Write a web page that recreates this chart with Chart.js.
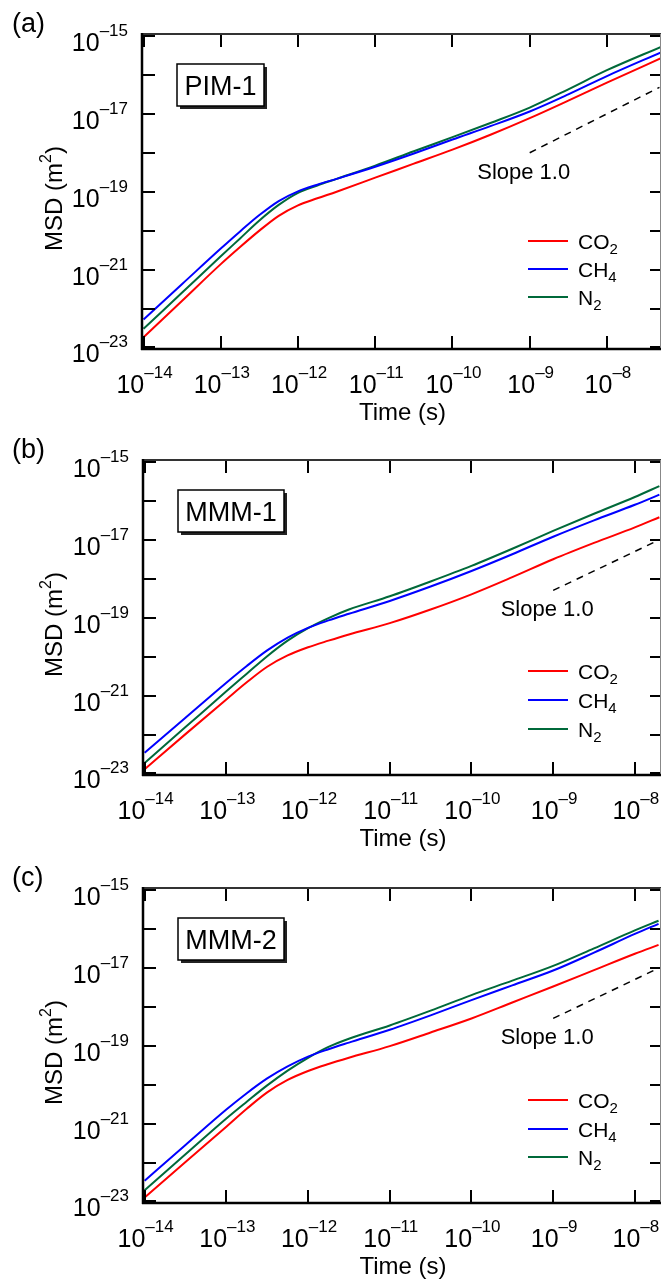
<!DOCTYPE html>
<html lang="en">
<head>
<meta charset="UTF-8">
<title>MSD vs time</title>
<script src="https://cdn.jsdelivr.net/npm/chart.js"></script>
<style>
  body { margin: 0; background: #fff; }
  #wrap { position: relative; width: 662px; height: 1286px; }
  canvas { position: absolute; left: 0; }
</style>
</head>
<body>
<div id="wrap">
  <canvas id="chartA" width="662" height="426" style="top:0px"></canvas>
  <canvas id="chartB" width="662" height="428" style="top:426px"></canvas>
  <canvas id="chartC" width="662" height="432" style="top:854px"></canvas>
</div>
<script>
// all values are log10 (time in s, MSD in m^2)

// (a) PIM-1
const timeA = [-14, -13.5, -13, -12.75, -12.5, -12.25, -12, -11.75, -11.5, -11, -10.5, -10, -9.5, -9, -8.5, -8, -7.3];
const co2A  = [-22.74, -21.80, -20.86, -20.42, -20.00, -19.62, -19.35, -19.17, -19.00, -18.64, -18.28, -17.92, -17.53, -17.11, -16.66, -16.20, -15.57];
const ch4A  = [-22.28, -21.37, -20.46, -20.02, -19.60, -19.24, -18.99, -18.82, -18.67, -18.36, -18.02, -17.66, -17.31, -16.94, -16.50, -16.03, -15.42];
const n2A   = [-22.52, -21.59, -20.66, -20.20, -19.74, -19.34, -19.03, -18.84, -18.67, -18.33, -17.96, -17.60, -17.23, -16.84, -16.37, -15.88, -15.28];
const slopeTimeA = [-9, -7.32];
const slopeMsdA  = [-18.0, -16.32];

// (b) MMM-1
const timeB = [-14, -13.5, -13, -12.75, -12.5, -12.25, -12, -11.75, -11.5, -11, -10.5, -10, -9.5, -9, -8.5, -8, -7.7];
const co2B  = [-22.89, -21.99, -21.10, -20.66, -20.26, -19.97, -19.76, -19.59, -19.43, -19.14, -18.79, -18.40, -17.96, -17.50, -17.08, -16.68, -16.42];
const ch4B  = [-22.47, -21.57, -20.67, -20.24, -19.84, -19.51, -19.26, -19.07, -18.90, -18.57, -18.20, -17.80, -17.37, -16.92, -16.50, -16.10, -15.84];
const n2B   = [-22.73, -21.81, -20.89, -20.44, -19.99, -19.59, -19.27, -19.01, -18.79, -18.45, -18.07, -17.67, -17.23, -16.77, -16.33, -15.90, -15.62];
const slopeTimeB = [-9, -7.70];
const slopeMsdB  = [-18.3, -17.0];

// (c) MMM-2
const timeC = [-14, -13.5, -13, -12.75, -12.5, -12.25, -12, -11.75, -11.5, -11, -10.5, -10, -9.5, -9, -8.5, -8, -7.71];
const co2C  = [-22.90, -21.99, -21.08, -20.62, -20.20, -19.88, -19.65, -19.47, -19.31, -19.01, -18.66, -18.30, -17.89, -17.48, -17.06, -16.64, -16.41];
const ch4C  = [-22.47, -21.55, -20.64, -20.22, -19.84, -19.53, -19.28, -19.09, -18.92, -18.59, -18.22, -17.83, -17.45, -17.07, -16.61, -16.13, -15.87];
const n2C   = [-22.71, -21.79, -20.87, -20.44, -20.02, -19.64, -19.31, -19.03, -18.82, -18.48, -18.10, -17.70, -17.33, -16.95, -16.50, -16.04, -15.79];
const slopeTimeC = [-9, -7.71];
const slopeMsdC  = [-18.3, -17.01];

// axis decades
const xTicks  = [-14, -13, -12, -11, -10, -9, -8];
const yTicks  = [-23, -22, -21, -20, -19, -18, -17, -16, -15];
const yLabels = [-23, -21, -19, -17, -15];
const yMin = -23.04, yMax = -14.95;

const seriesNames = [['CO', '2'], ['CH', '4'], ['N', '2']];
const RED = '#ff0000', BLUE = '#0000ff', GREEN = '#00693a';
const FONT = '"Liberation Sans", Arial, Helvetica, sans-serif';

const panels = [
  { id: 'chartA', tag: '(a)', name: 'PIM-1', t: timeA, co2: co2A, ch4: ch4A, n2: n2A,
    st: slopeTimeA, sm: slopeMsdA, xMin: -14.02, xMax: -7.30, left: 142, legendY: [-108, -80, -52] },
  { id: 'chartB', tag: '(b)', name: 'MMM-1', t: timeB, co2: co2B, ch4: ch4B, n2: n2B,
    st: slopeTimeB, sm: slopeMsdB, xMin: -14.02, xMax: -7.68, left: 143, legendY: [-104, -75, -46] },
  { id: 'chartC', tag: '(c)', name: 'MMM-2', t: timeC, co2: co2C, ch4: ch4C, n2: n2C,
    st: slopeTimeC, sm: slopeMsdC, xMin: -14.02, xMax: -7.68, left: 143, legendY: [-103, -74, -46] }
];

function pts(xs, ys) {
  return xs.map((v, i) => ({ x: Math.pow(10, v), y: Math.pow(10, ys[i]) }));
}

function seg(ctx, x1, y1, x2, y2) {
  ctx.beginPath(); ctx.moveTo(x1, y1); ctx.lineTo(x2, y2); ctx.stroke();
}

// "10" with a raised exponent
function powLabel(ctx, e, x, y, align) {
  const sup = '\u2013' + Math.abs(e);
  ctx.font = '25px ' + FONT;
  const wb = ctx.measureText('10').width;
  ctx.font = '17px ' + FONT;
  const ws = ctx.measureText(sup).width;
  const left = align === 'center' ? x - (wb + ws) / 2 : x - wb - ws;
  ctx.textAlign = 'left';
  ctx.textBaseline = 'alphabetic';
  ctx.font = '25px ' + FONT;
  ctx.fillText('10', left, y);
  ctx.font = '17px ' + FONT;
  ctx.fillText(sup, left + wb, y - 15);
}

function decorate(p) {
  return {
    id: 'decor',
    afterDraw(chart) {
      const ctx = chart.ctx, a = chart.chartArea;
      const xs = chart.scales.x, ys = chart.scales.y;
      ctx.save();
      ctx.fillStyle = '#000';
      ctx.strokeStyle = '#000';

      // ticks, pointing inwards on all four sides
      ctx.lineWidth = 2;
      xTicks.forEach(e => {
        const px = Math.round(xs.getPixelForValue(Math.pow(10, e)));
        seg(ctx, px, a.bottom, px, a.bottom - 13);
        seg(ctx, px, a.top, px, a.top + 13);
      });
      yTicks.forEach(e => {
        const py = Math.round(ys.getPixelForValue(Math.pow(10, e)));
        seg(ctx, a.left, py, a.left + 13, py);
        seg(ctx, a.right, py, a.right - 11, py);
      });

      // frame
      ctx.strokeStyle = '#333';
      ctx.lineWidth = 2;
      seg(ctx, a.left, a.top, a.right, a.top);
      ctx.strokeStyle = '#888';
      ctx.lineWidth = 1;
      seg(ctx, a.right - 0.5, a.top, a.right - 0.5, a.bottom);
      ctx.strokeStyle = '#000';
      ctx.lineWidth = 2.5;
      seg(ctx, a.left, a.top - 1, a.left, a.bottom + 1);
      seg(ctx, a.left - 1, a.bottom, a.right, a.bottom);

      // tick labels
      xTicks.forEach(e => {
        powLabel(ctx, e, xs.getPixelForValue(Math.pow(10, e)) + 1, a.bottom + 44, 'center');
      });
      yLabels.forEach(e => {
        powLabel(ctx, e, a.left - 14, ys.getPixelForValue(Math.pow(10, e)) + 15, 'right');
      });

      // axis titles
      ctx.font = '24px ' + FONT;
      ctx.textAlign = 'center';
      ctx.textBaseline = 'alphabetic';
      ctx.fillText('Time (s)', (a.left + a.right) / 2 + 1, a.bottom + 71);

      ctx.save();
      ctx.translate(62, (a.top + a.bottom) / 2 + 7);
      ctx.rotate(-Math.PI / 2);
      ctx.font = '24px ' + FONT;
      const w1 = ctx.measureText('MSD (m').width;
      const w3 = ctx.measureText(')').width;
      ctx.font = '16px ' + FONT;
      const w2 = ctx.measureText('2').width;
      let x0 = -(w1 + w2 + w3) / 2;
      ctx.textAlign = 'left';
      ctx.font = '24px ' + FONT;
      ctx.fillText('MSD (m', x0, 0);
      ctx.font = '16px ' + FONT;
      ctx.fillText('2', x0 + w1, -11);
      ctx.font = '24px ' + FONT;
      ctx.fillText(')', x0 + w1 + w2, 0);
      ctx.restore();

      // panel tag
      ctx.font = '27px ' + FONT;
      ctx.textAlign = 'left';
      ctx.fillText(p.tag, 12, a.top - 2);

      // material name box with shadow
      ctx.font = '27px ' + FONT;
      const nw = ctx.measureText(p.name).width;
      const bx = a.left + 35, by = a.top + 30, bw = Math.round(nw + 15), bh = 42;
      ctx.fillStyle = '#222';
      ctx.fillRect(bx + 3, by + 3, bw, bh);
      ctx.fillStyle = '#fff';
      ctx.fillRect(bx, by, bw, bh);
      ctx.strokeStyle = '#000';
      ctx.lineWidth = 1.5;
      ctx.strokeRect(bx, by, bw, bh);
      ctx.fillStyle = '#000';
      ctx.textAlign = 'center';
      ctx.fillText(p.name, bx + bw / 2, by + 31);

      // slope label next to the dashed guide
      const sx = xs.getPixelForValue(Math.pow(10, p.st[0]));
      const sy = ys.getPixelForValue(Math.pow(10, p.sm[0]));
      ctx.font = '22px ' + FONT;
      ctx.textAlign = 'center';
      ctx.fillText('Slope 1.0', sx - 6, sy + 26);

      // legend
      const colors = [RED, BLUE, GREEN];
      seriesNames.forEach((nm, i) => {
        const ly = a.bottom + p.legendY[i];
        ctx.strokeStyle = colors[i];
        ctx.lineWidth = 2;
        seg(ctx, a.right - 133, ly, a.right - 93, ly);
        ctx.fillStyle = '#000';
        ctx.textAlign = 'left';
        ctx.font = '21px ' + FONT;
        const tx = a.right - 83;
        ctx.fillText(nm[0], tx, ly + 7.5);
        const tw = ctx.measureText(nm[0]).width;
        ctx.font = '15px ' + FONT;
        ctx.fillText(nm[1], tx + tw, ly + 13);
      });

      ctx.restore();
    }
  };
}

panels.forEach(p => {
  const canvas = document.getElementById(p.id);
  const line = (data, color) => ({
    data: data, borderColor: color, borderWidth: 2, pointRadius: 0,
    cubicInterpolationMode: 'monotone', fill: false
  });
  new Chart(canvas, {
    type: 'line',
    data: {
      datasets: [
        line(pts(p.t, p.co2), RED),
        line(pts(p.t, p.ch4), BLUE),
        line(pts(p.t, p.n2), GREEN),
        { data: pts(p.st, p.sm), borderColor: '#000', borderWidth: 1.5,
          borderDash: [7, 6], pointRadius: 0, fill: false }
      ]
    },
    options: {
      responsive: false,
      animation: false,
      devicePixelRatio: 1,
      layout: { padding: { left: p.left, right: 1, top: 34, bottom: canvas.height - 34 - 315 } },
      plugins: { legend: { display: false }, tooltip: { enabled: false } },
      scales: {
        x: { type: 'logarithmic', min: Math.pow(10, p.xMin), max: Math.pow(10, p.xMax), display: false },
        y: { type: 'logarithmic', min: Math.pow(10, yMin), max: Math.pow(10, yMax), display: false }
      }
    },
    plugins: [decorate(p)]
  });
});
</script>
</body>
</html>
